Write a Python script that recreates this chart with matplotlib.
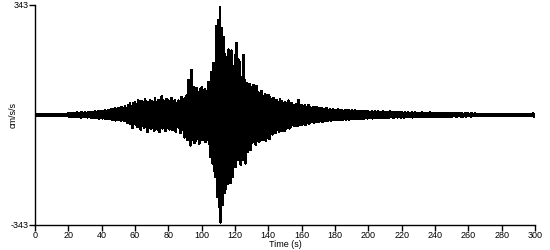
import numpy as np
import matplotlib.pyplot as plt

plt.rcParams['font.family'] = ['Liberation Sans', 'DejaVu Sans']

# pico superior / inferior de la señal (cm/s/s), leído cada 1 s
t = np.arange(0, 301)
upper = [
    2, 3, 2, 3, 2, 3, 2, 3, 2, 3,
    3, 2, 3, 2, 3, 3, 2, 3, 2, 3,
    4, 5, 4, 6, 5, 7, 5, 6, 8, 6,
    7, 6, 8, 7, 9, 8, 10, 9, 12, 10,
    12, 10, 14, 11, 15, 13, 18, 16, 22, 19,
    21, 18, 24, 20, 26, 22, 30, 35, 28, 37,
    40, 33, 45, 38, 42, 36, 50, 41, 38, 47,
    43, 36, 52, 40, 46, 38, 57, 44, 41, 49,
    45, 39, 53, 42, 47, 37, 44, 40, 56, 48,
    52, 60, 109, 95, 140, 87, 78, 84, 72, 80,
    85, 76, 80, 73, 103, 95, 134, 162, 150, 277,
    296, 337, 270, 243, 190, 181, 203, 193, 200, 150,
    187, 224, 172, 165, 115, 187, 109, 100, 94, 96,
    87, 92, 85, 90, 70, 62, 73, 58, 65, 60,
    62, 55, 48, 53, 41, 45, 38, 50, 42, 37,
    40, 35, 44, 31, 36, 30, 28, 33, 47, 30,
    31, 27, 29, 25, 30, 23, 22, 25, 20, 24,
    21, 18, 22, 19, 17, 20, 16, 18, 15, 17,
    16, 14, 17, 15, 16, 13, 15, 14, 16, 12,
    14, 12, 15, 11, 13, 10, 12, 11, 10, 12,
    10, 9, 11, 8, 10, 9, 11, 8, 9, 10,
    8, 9, 7, 10, 8, 7, 9, 8, 7, 8,
    7, 6, 8, 6, 7, 5, 7, 6, 8, 6,
    6, 5, 7, 5, 6, 6, 5, 7, 5, 6,
    5, 6, 4, 5, 6, 4, 5, 4, 6, 5,
    4, 5, 4, 6, 4, 5, 4, 3, 5, 4,
    4, 3, 5, 3, 4, 3, 3, 2, 3, 2,
    2, 3, 2, 2, 3, 2, 2, 3, 2, 2,
    2, 2, 3, 2, 2, 3, 2, 2, 3, 2,
    2, 3, 2, 2, 3, 2, 2, 3, 2, 4, 2,
]
lower = [
    -2, -3, -2, -3, -2, -3, -2, -3, -2, -3,
    -3, -2, -3, -2, -3, -3, -2, -3, -2, -3,
    -4, -5, -4, -6, -5, -6, -5, -7, -6, -5,
    -6, -7, -6, -8, -7, -8, -9, -8, -10, -9,
    -10, -9, -12, -10, -13, -11, -14, -12, -16, -14,
    -15, -17, -14, -19, -16, -25, -21, -28, -40, -26,
    -30, -37, -28, -45, -33, -40, -31, -53, -36, -42,
    -38, -48, -34, -44, -53, -37, -41, -35, -50, -39,
    -44, -36, -47, -40, -52, -37, -41, -56, -45, -69,
    -60, -78, -70, -94, -78, -87, -80, -75, -90, -72,
    -78, -69, -84, -76, -90, -131, -150, -175, -193, -256,
    -287, -334, -280, -243, -230, -215, -203, -212, -193, -150,
    -162, -140, -130, -155, -140, -109, -150, -115, -105, -109,
    -85, -78, -92, -80, -83, -76, -78, -70, -80, -72,
    -75, -56, -60, -50, -56, -45, -52, -41, -48, -50,
    -44, -38, -41, -35, -31, -34, -30, -33, -28, -31,
    -29, -26, -31, -24, -27, -22, -21, -24, -20, -22,
    -20, -18, -21, -17, -16, -19, -15, -17, -15, -16,
    -15, -14, -16, -13, -15, -12, -14, -13, -15, -12,
    -13, -11, -12, -10, -12, -9, -11, -10, -9, -10,
    -9, -8, -10, -7, -9, -8, -9, -7, -8, -9,
    -8, -7, -8, -6, -7, -8, -6, -7, -6, -7,
    -6, -7, -5, -6, -5, -6, -7, -5, -6, -5,
    -5, -6, -5, -4, -6, -5, -4, -5, -6, -4,
    -5, -4, -5, -4, -6, -4, -5, -4, -5, -4,
    -4, -3, -5, -4, -3, -4, -5, -3, -4, -3,
    -3, -4, -3, -2, -3, -2, -3, -2, -2, -3,
    -2, -2, -3, -2, -2, -3, -2, -2, -3, -2,
    -2, -3, -2, -2, -3, -2, -2, -2, -3, -2,
    -2, -3, -2, -2, -3, -2, -2, -3, -2, -5, -2,
]
ymax = 343
xticks = np.arange(0, 301, 20)

# traza: alterna pico superior e inferior
x = np.empty(2 * len(t))
y = np.empty(2 * len(t))
x[0::2] = t
x[1::2] = t + 0.5
y[0::2] = upper
y[1::2] = lower
x = np.clip(x, 0, 300)

fig = plt.figure(figsize=(5.5, 2.5), dpi=100)
ax = fig.add_axes([0.0636, 0.1, 0.9091, 0.88])
ax.plot(x, y, color='black', linewidth=1.3, antialiased=False)
ax.axhline(0, color='black', linewidth=1.5, antialiased=False)

ax.set_xlim(0, 300)
ax.set_ylim(-ymax, ymax)
ax.set_xticks(xticks)
ax.set_yticks([-ymax, ymax])
ax.set_yticklabels(['-343', '343'])
ax.tick_params(direction='out', length=4, width=1, labelsize=6.5, pad=0.5, colors='black')
ax.set_xlabel('Time (s)', fontsize=6.5)
ax.xaxis.set_label_coords(0.5, -0.068)
ax.set_ylabel('cm/s/s', fontsize=6.5)
ax.yaxis.set_label_coords(-0.035, 0.5)
ax.spines['top'].set_visible(False)
ax.spines['right'].set_visible(False)
for s in ['left', 'bottom']:
    ax.spines[s].set_linewidth(1)

fig.savefig('out.png', dpi=100)
